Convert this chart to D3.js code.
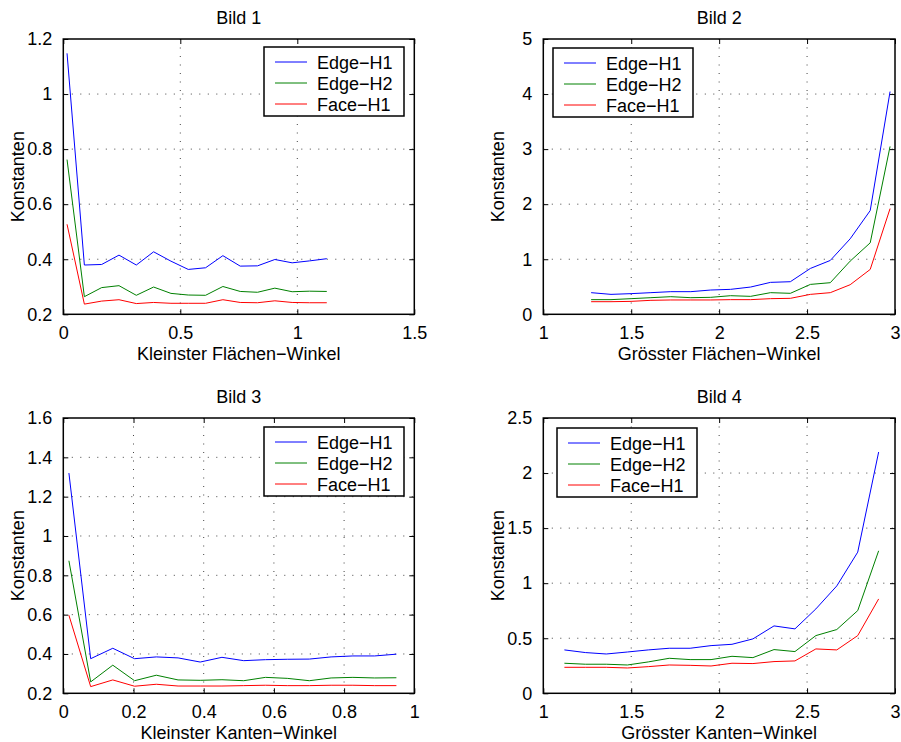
<!DOCTYPE html>
<html>
<head>
<meta charset="utf-8">
<script src="https://cdn.jsdelivr.net/npm/d3@7"></script>
<style>
  body { margin: 0; background: #fff; }
  svg { display: block; font-family: "Liberation Sans", Arial, Helvetica, sans-serif; }
</style>
</head>
<body>
<svg id="chart" width="901" height="742"></svg>
<script>
// ---------- data ----------
const seriesNames = ["Edge\u2212H1", "Edge\u2212H2", "Face\u2212H1"];
const seriesColors = ["#0000ff", "#008000", "#ff0000"];

const titles = ["Bild 1", "Bild 2", "Bild 3", "Bild 4"];
const xLabels = ["Kleinster Fl\u00e4chen\u2212Winkel", "Gr\u00f6sster Fl\u00e4chen\u2212Winkel",
                 "Kleinster Kanten\u2212Winkel", "Gr\u00f6sster Kanten\u2212Winkel"];
const yLabel = "Konstanten";

// Bild 1
const x1 = [0.016, 0.090, 0.164, 0.238, 0.312, 0.386, 0.460, 0.534, 0.608, 0.682, 0.756, 0.830, 0.904, 0.978, 1.052, 1.126];
const b1EdgeH1 = [1.148, 0.379, 0.381, 0.415, 0.379, 0.427, 0.393, 0.363, 0.369, 0.413, 0.375, 0.376, 0.399, 0.387, 0.394, 0.402];
const b1EdgeH2 = [0.762, 0.264, 0.297, 0.304, 0.269, 0.299, 0.276, 0.270, 0.269, 0.301, 0.283, 0.280, 0.295, 0.282, 0.284, 0.283];
const b1FaceH1 = [0.527, 0.237, 0.248, 0.253, 0.239, 0.243, 0.240, 0.240, 0.240, 0.253, 0.243, 0.242, 0.249, 0.243, 0.242, 0.242];
const b1XTicks = [0, 0.5, 1, 1.5];
const b1YTicks = [0.2, 0.4, 0.6, 0.8, 1, 1.2];

// Bild 2
const x2 = [1.272, 1.385, 1.499, 1.612, 1.725, 1.839, 1.952, 2.065, 2.179, 2.292, 2.405, 2.519, 2.632, 2.745, 2.859, 2.972];
const b2EdgeH1 = [0.393, 0.362, 0.375, 0.393, 0.411, 0.411, 0.441, 0.453, 0.495, 0.580, 0.592, 0.833, 0.978, 1.371, 1.884, 4.046];
const b2EdgeH2 = [0.266, 0.266, 0.284, 0.302, 0.320, 0.302, 0.308, 0.338, 0.326, 0.393, 0.381, 0.543, 0.574, 0.966, 1.298, 3.049];
const b2FaceH1 = [0.229, 0.229, 0.235, 0.254, 0.260, 0.260, 0.260, 0.266, 0.266, 0.284, 0.290, 0.362, 0.393, 0.537, 0.815, 1.920];
const b2XTicks = [1, 1.5, 2, 2.5, 3];
const b2YTicks = [0, 1, 2, 3, 4, 5];

// Bild 3
const x3 = [0.016, 0.078, 0.141, 0.203, 0.265, 0.327, 0.390, 0.452, 0.514, 0.576, 0.638, 0.701, 0.763, 0.825, 0.887, 0.949];
const b3EdgeH1 = [1.320, 0.376, 0.429, 0.376, 0.385, 0.380, 0.359, 0.383, 0.366, 0.371, 0.373, 0.374, 0.385, 0.390, 0.390, 0.399];
const b3EdgeH2 = [0.874, 0.258, 0.343, 0.264, 0.292, 0.268, 0.266, 0.269, 0.264, 0.281, 0.276, 0.264, 0.278, 0.281, 0.278, 0.279];
const b3FaceH1 = [0.597, 0.234, 0.268, 0.236, 0.246, 0.237, 0.237, 0.237, 0.239, 0.241, 0.239, 0.239, 0.241, 0.241, 0.239, 0.239];
const b3XTicks = [0, 0.2, 0.4, 0.6, 0.8, 1];
const b3YTicks = [0.2, 0.4, 0.6, 0.8, 1, 1.2, 1.4, 1.6];

// Bild 4
const x4 = [1.120, 1.239, 1.358, 1.478, 1.597, 1.716, 1.835, 1.954, 2.073, 2.192, 2.312, 2.431, 2.550, 2.669, 2.788, 2.907];
const b4EdgeH1 = [0.394, 0.370, 0.357, 0.375, 0.394, 0.409, 0.409, 0.433, 0.445, 0.494, 0.612, 0.585, 0.766, 0.975, 1.282, 2.191];
const b4EdgeH2 = [0.273, 0.264, 0.264, 0.257, 0.285, 0.318, 0.306, 0.306, 0.336, 0.324, 0.397, 0.379, 0.524, 0.579, 0.751, 1.294];
const b4FaceH1 = [0.236, 0.236, 0.236, 0.230, 0.242, 0.257, 0.254, 0.248, 0.273, 0.270, 0.288, 0.294, 0.403, 0.394, 0.524, 0.857];
const b4XTicks = [1, 1.5, 2, 2.5, 3];
const b4YTicks = [0, 0.5, 1, 1.5, 2, 2.5];

// ---------- layout ----------
const panels = [
  { x: x1, ys: [b1EdgeH1, b1EdgeH2, b1FaceH1], xt: b1XTicks, yt: b1YTicks,
    box: [63.3, 39, 414.3, 314.3], legend: [264, 47] },
  { x: x2, ys: [b2EdgeH1, b2EdgeH2, b2FaceH1], xt: b2XTicks, yt: b2YTicks,
    box: [543.3, 39, 895, 314.3], legend: [553, 48] },
  { x: x3, ys: [b3EdgeH1, b3EdgeH2, b3FaceH1], xt: b3XTicks, yt: b3YTicks,
    box: [63.3, 418, 414.3, 693.3], legend: [264, 427] },
  { x: x4, ys: [b4EdgeH1, b4EdgeH2, b4FaceH1], xt: b4XTicks, yt: b4YTicks,
    box: [543.3, 418, 895, 693.3], legend: [557, 428] }
];

const svg = d3.select("#chart");
const fmt = v => String(+v.toFixed(2));
const FS = 18;

panels.forEach((p, i) => {
  const [L, T, R, B] = p.box;
  const xs = d3.scaleLinear().domain(d3.extent(p.xt)).range([L, R]);
  const ys = d3.scaleLinear().domain(d3.extent(p.yt)).range([B, T]);
  const g = svg.append("g");

  // grid (dotted)
  const grid = g.append("g").attr("stroke", "#444").attr("stroke-width", 1)
    .attr("stroke-dasharray", "1,7.5");
  p.xt.slice(1, -1).forEach(v => {
    grid.append("line").attr("x1", xs(v)).attr("x2", xs(v)).attr("y1", T).attr("y2", B);
  });
  p.yt.slice(1, -1).forEach(v => {
    grid.append("line").attr("x1", L).attr("x2", R).attr("y1", ys(v)).attr("y2", ys(v));
  });

  // axes via d3 (tick labels only, ticks drawn inward)
  const xAxis = d3.axisBottom(xs).tickValues(p.xt).tickFormat(fmt).tickSizeInner(-5).tickSizeOuter(0).tickPadding(12);
  const xg = g.append("g").attr("transform", `translate(0,${B})`).call(xAxis);
  const yAxis = d3.axisLeft(ys).tickValues(p.yt).tickFormat(fmt).tickSizeInner(-5).tickSizeOuter(0).tickPadding(11);
  const yg = g.append("g").attr("transform", `translate(${L},0)`).call(yAxis);
  // top / right inward ticks
  const xTop = g.append("g").attr("transform", `translate(0,${T})`)
    .call(d3.axisTop(xs).tickValues(p.xt).tickFormat("").tickSizeInner(-5).tickSizeOuter(0));
  const yRight = g.append("g").attr("transform", `translate(${R},0)`)
    .call(d3.axisRight(ys).tickValues(p.yt).tickFormat("").tickSizeInner(-5).tickSizeOuter(0));
  [xg, yg, xTop, yRight].forEach(a => {
    a.select(".domain").remove();
    a.selectAll("line").attr("stroke", "#000").attr("stroke-width", 1);
    a.selectAll("text").attr("font-size", FS).attr("fill", "#000")
      .attr("font-family", "Liberation Sans, Arial, sans-serif");
  });

  // series
  const line = d3.line().x((d, k) => xs(p.x[k])).y(d => ys(d));
  p.ys.forEach((vals, s) => {
    g.append("path").datum(vals).attr("d", line).attr("fill", "none")
      .attr("stroke", seriesColors[s]).attr("stroke-width", 1);
  });

  // frame
  g.append("rect").attr("x", L).attr("y", T).attr("width", R - L).attr("height", B - T)
    .attr("fill", "none").attr("stroke", "#000").attr("stroke-width", 1.5);

  // title & labels
  g.append("text").attr("x", (L + R) / 2).attr("y", T - 15).attr("text-anchor", "middle")
    .attr("font-size", FS).text(titles[i]);
  g.append("text").attr("x", (L + R) / 2).attr("y", B + 46).attr("text-anchor", "middle")
    .attr("font-size", FS).text(xLabels[i]);
  g.append("text").attr("transform", `translate(${L - 39},${(T + B) / 2}) rotate(-90)`)
    .attr("text-anchor", "middle").attr("font-size", FS).text(yLabel);

  // legend
  const [lx, ly] = p.legend;
  const lg = g.append("g");
  lg.append("rect").attr("x", lx).attr("y", ly).attr("width", 140).attr("height", 69)
    .attr("fill", "#fff").attr("stroke", "#000").attr("stroke-width", 1.5);
  seriesNames.forEach((n, s) => {
    const cy = ly + 15 + s * 21;
    lg.append("line").attr("x1", lx + 11).attr("x2", lx + 43).attr("y1", cy).attr("y2", cy)
      .attr("stroke", seriesColors[s]).attr("stroke-width", 1);
    lg.append("text").attr("x", lx + 53).attr("y", cy + 6.5).attr("font-size", FS).text(n);
  });
});
</script>
</body>
</html>
